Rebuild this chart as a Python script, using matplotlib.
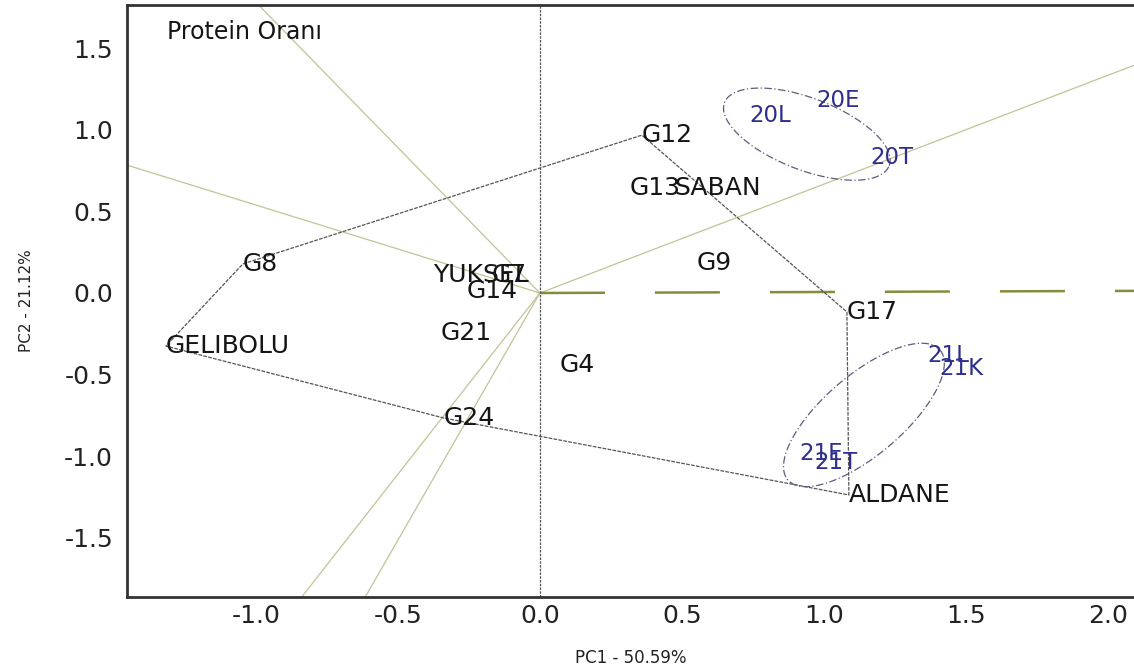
import numpy as np
import matplotlib
matplotlib.use("Agg")
import matplotlib.pyplot as plt

plt.rcParams['font.family'] = ['DejaVu Sans']
plt.rcParams['axes.unicode_minus'] = False

# genotype scores (PC1, PC2)
genotypes = ["G8", "G12", "G13", "SABAN", "G9", "YUKSEL", "G7", "G14", "G17",
             "G21", "GELIBOLU", "G4", "G24", "ALDANE"]
gen_pc1 = [-1.046, 0.359, 0.317, 0.475, 0.553, -0.377, -0.169, -0.257, 1.081,
           -0.349, -1.317, 0.070, -0.338, 1.088]
gen_pc2 = [0.178, 0.967, 0.643, 0.643, 0.184, 0.110, 0.110, 0.012, -0.116,
           -0.245, -0.325, -0.441, -0.766, -1.237]

# environment scores
environments = ["20L", "20E", "20T", "21L", "21K", "21E", "21T"]
env_pc1 = [0.739, 0.975, 1.162, 1.363, 1.408, 0.915, 0.968]
env_pc2 = [1.090, 1.182, 0.827, -0.380, -0.460, -0.980, -1.040]

# which-won-where polygon vertices
hull = ["G8", "G12", "G17", "ALDANE", "G24", "GELIBOLU"]

# ellipses around the two year groups: centre, half-axis vectors
ell_center = [(0.940, 0.973), (1.141, -0.747)]
ell_major = [(0.290, -0.193), (0.268, 0.398)]
ell_minor = [(0.045, 0.206), (0.0915, -0.186)]

xticks = [-1.0, -0.5, 0.0, 0.5, 1.0, 1.5, 2.0]
yticks = [-1.5, -1.0, -0.5, 0.0, 0.5, 1.0, 1.5]

fig = plt.figure(figsize=(11.34, 6.68), dpi=100)
ax = fig.add_axes([127 / 1134, 1 - 597 / 668, 1 - 127 / 1134, 592 / 668])

pos = {g: np.array([x, y]) for g, x, y in zip(genotypes, gen_pc1, gen_pc2)}

# rays from origin perpendicular to each polygon side
for i in range(len(hull)):
    p, q = pos[hull[i]], pos[hull[(i + 1) % len(hull)]]
    d = q - p
    n = np.array([d[1], -d[0]])
    if n @ p < 0:
        n = -n
    end = n / np.linalg.norm(n) * 10
    if {hull[i], hull[(i + 1) % len(hull)]} == {"G17", "ALDANE"}:
        ax.plot([0, end[0]], [0, end[1]], color="#8a8a3c", lw=1.8,
                ls=(0, (26, 20)), zorder=1)
    else:
        ax.plot([0, end[0]], [0, end[1]], color="#c4c296", lw=0.9, zorder=1)

# polygon
hx = [pos[h][0] for h in hull] + [pos[hull[0]][0]]
hy = [pos[h][1] for h in hull] + [pos[hull[0]][1]]
ax.plot(hx, hy, color="#555555", lw=0.9, ls=(0, (3, 1)), zorder=2)

ax.axvline(0, color="#555555", lw=0.9, ls=(0, (2, 1)), zorder=2)

# ellipses
t = np.linspace(0, 2 * np.pi, 200)
for c, a, b in zip(ell_center, ell_major, ell_minor):
    ex = c[0] + a[0] * np.cos(t) + b[0] * np.sin(t)
    ey = c[1] + a[1] * np.cos(t) + b[1] * np.sin(t)
    ax.plot(ex, ey, color="#5c5c80", lw=0.9, ls=(0, (6, 2, 1, 2)), zorder=2)

for g, x, y in zip(genotypes, gen_pc1, gen_pc2):
    ax.text(x, y, g, fontsize=18, color="#151515", ha="left", va="center", zorder=3)
for e, x, y in zip(environments, env_pc1, env_pc2):
    ax.text(x, y, e, fontsize=16.5, color="#2e2e8c", ha="left", va="center", zorder=3)

ax.text(0.04, 0.954, "Protein Oranı", transform=ax.transAxes, fontsize=17,
        color="#151515", ha="left", va="center")

ax.set_xlim(-1.454, 2.092)
ax.set_ylim(-1.862, 1.764)
ax.set_xticks(xticks)
ax.set_yticks(yticks)
ax.set_xticklabels([f"{v:.1f}" for v in xticks])
ax.set_yticklabels([f"{v:.1f}" for v in yticks])
ax.tick_params(axis="both", length=0, labelsize=18, colors="#222222")
ax.tick_params(axis="x", pad=5)
ax.tick_params(axis="y", pad=10)

for s in ["left", "bottom", "top"]:
    ax.spines[s].set_color("#333333")
    ax.spines[s].set_linewidth(2)
ax.spines["right"].set_visible(False)

ax.set_xlabel("PC1 - 50.59%", fontsize=12, color="#222222")
ax.xaxis.set_label_coords(0.5, -0.088)
ax.set_ylabel("PC2 - 21.12%", fontsize=11, color="#222222")
ax.yaxis.set_label_coords(-0.092, 0.5)

fig.savefig("out.png", dpi=100)
